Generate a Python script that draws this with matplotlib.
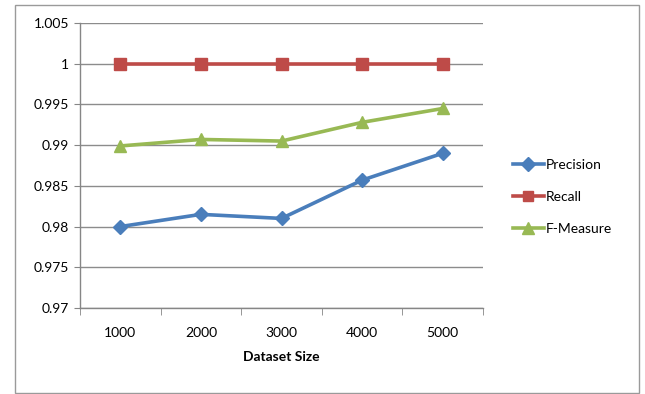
import matplotlib
matplotlib.use("Agg")
import matplotlib.pyplot as plt
from matplotlib.patches import Rectangle
from matplotlib.ticker import FixedLocator, NullFormatter

plt.rcParams['font.family'] = ['Lato', 'DejaVu Sans']

categories = ["1000", "2000", "3000", "4000", "5000"]
precision = [0.9800, 0.9815, 0.9810, 0.9857, 0.9890]
recall = [1.0, 1.0, 1.0, 1.0, 1.0]
f_measure = [0.9899, 0.9907, 0.9905, 0.9928, 0.9945]
y_ticks = [0.97, 0.975, 0.98, 0.985, 0.99, 0.995, 1.0, 1.005]
y_labels = ["0.97", "0.975", "0.98", "0.985", "0.99", "0.995", "1", "1.005"]

fig = plt.figure(figsize=(6.45, 3.94), dpi=100)
fig.patches.append(Rectangle((15/645, 1-393/394), 624/645, 388/394,
                             transform=fig.transFigure, fill=False,
                             edgecolor='#9a9a9a', linewidth=1.0))
ax = fig.add_axes([80/645, 1-308/394, 403/645, 285/394])

x = list(range(len(categories)))
ax.plot(x, precision, color='#4A7EBB', lw=2.6, marker='D', ms=7.5, label='Precision', zorder=3)
ax.plot(x, recall, color='#BE4B48', lw=2.6, marker='s', ms=8.5, label='Recall', zorder=3)
ax.plot(x, f_measure, color='#98B954', lw=2.6, marker='^', ms=9, label='F-Measure', zorder=3)

ax.set_ylim(0.97, 1.005)
ax.set_yticks(y_ticks)
ax.set_yticklabels(y_labels)
ax.set_xlim(-0.5, len(categories) - 0.5)
ax.set_xticks(x)
ax.set_xticklabels(categories)
ax.xaxis.set_minor_locator(FixedLocator([i - 0.5 for i in range(len(categories) + 1)]))
ax.xaxis.set_minor_formatter(NullFormatter())
ax.tick_params(axis='x', which='major', length=0, pad=14, labelsize=10, colors='black')
ax.tick_params(axis='x', which='minor', length=5, color='#868686', direction='out')
ax.tick_params(axis='y', which='major', length=4, color='#868686', labelsize=10, pad=4)

ax.grid(axis='y', color='#8c8c8c', lw=1.0, zorder=0)
ax.set_axisbelow(True)
for s in ['top', 'right']:
    ax.spines[s].set_visible(False)
for s in ['left', 'bottom']:
    ax.spines[s].set_color('#868686')
    ax.spines[s].set_linewidth(1.0)

ax.set_xlabel('Dataset Size', fontsize=10, fontweight='bold', labelpad=8)

ax.legend(loc='center left', bbox_to_anchor=(500/645, 1-197/394), bbox_transform=fig.transFigure,
          frameon=False, fontsize=10, handlelength=2.3, handletextpad=0.1, labelspacing=1.45,
          markerscale=0.9)

fig.savefig('out.png', dpi=100)
